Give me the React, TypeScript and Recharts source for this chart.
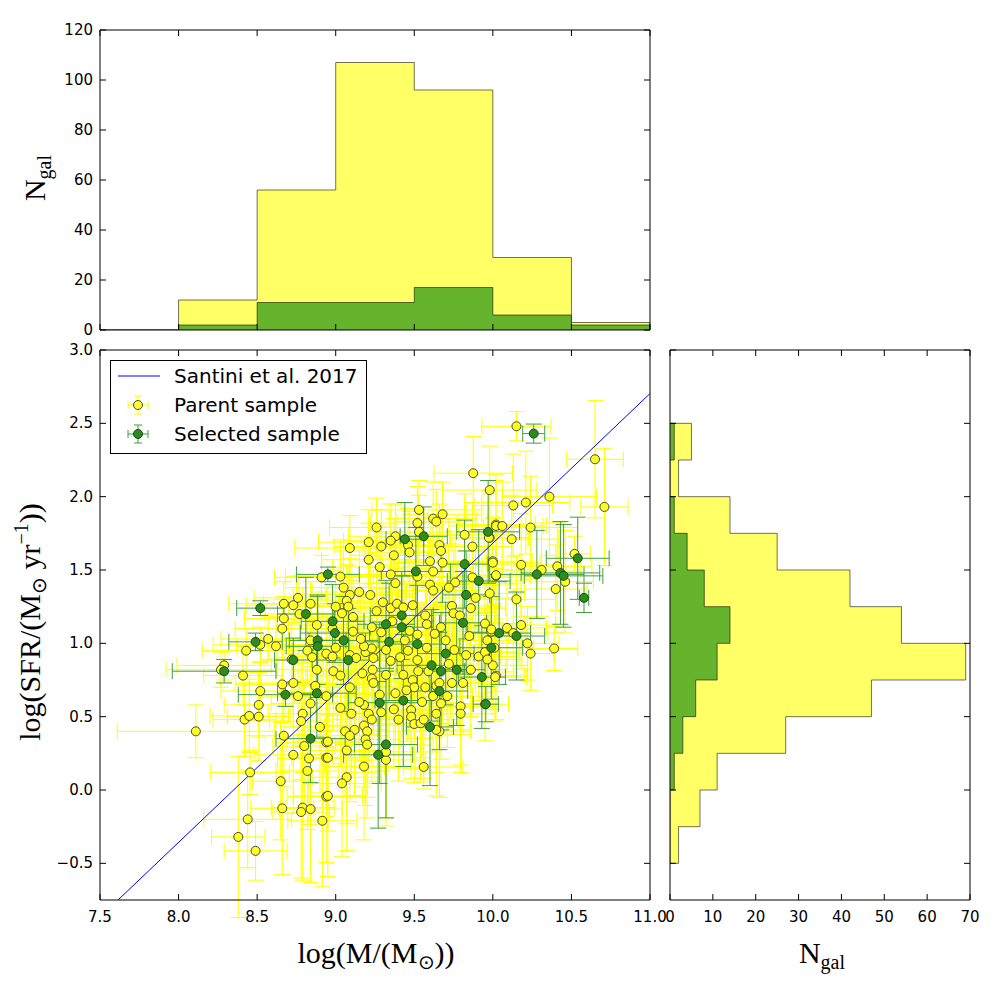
import React from 'react';
import { ComposedChart, Area, Scatter, ErrorBar, XAxis, YAxis } from 'recharts';

// Histogram of stellar mass: bin edges and galaxy counts per bin
const MASS_EDGES = [7.5, 8.0, 8.5, 9.0, 9.5, 10.0, 10.5, 11.0];
const PARENT_MASS_COUNTS = [0, 12, 56, 107, 96, 29, 3];
const SELECTED_MASS_COUNTS = [0, 2, 11, 11, 17, 6, 2];

// Histogram of SFR: bin edges and galaxy counts per bin
const SFR_EDGES = [-0.5, -0.25, 0, 0.25, 0.5, 0.75, 1.0, 1.25, 1.5, 1.75, 2.0, 2.25, 2.5];
const PARENT_SFR_COUNTS = [2, 7, 11, 27, 47, 69, 54, 42, 25, 14, 2, 5];
const SELECTED_SFR_COUNTS = [0, 0, 1, 3, 6, 11, 14, 8, 4, 1, 0, 1];

const MASS_TICKS = [7.5, 8.0, 8.5, 9.0, 9.5, 10.0, 10.5, 11.0];
const SFR_TICKS = [-0.5, 0, 0.5, 1.0, 1.5, 2.0, 2.5, 3.0];
const MASS_COUNT_TICKS = [0, 20, 40, 60, 80, 100, 120];
const SFR_COUNT_TICKS = [0, 10, 20, 30, 40, 50, 60, 70];

// Santini et al. 2017 main sequence: log SFR = a * log M + b
const SANTINI_SLOPE = 1.02;
const SANTINI_INTERCEPT = -8.517;
const SANTINI_MASS = [7.5, 11.0];

// [log M, log SFR, mass error, SFR error]
const PARENT_POINTS: number[][] = [
  [8.11, 0.4, 0.5, 0.18], [8.38, -0.32, 0.17, 0.55], [8.49, -0.415, 0.2, 0.2], [8.44, -0.2, 0.28, 0.33],
  [8.455, 0.12, 0.25, 0.15], [8.42, 0.48, 0.2, 0.25], [8.29, 0.85, 0.3, 0.1], [8.27, 0.82, 0.35, 0.12],
  [8.41, 0.78, 0.25, 0.2], [8.43, 0.95, 0.28, 0.15], [8.52, 0.99, 0.3, 0.12], [8.57, 1.03, 0.3, 0.15],
  [8.62, 0.98, 0.25, 0.2], [8.52, 0.675, 0.25, 0.2], [8.51, 0.58, 0.22, 0.22], [8.45, 0.505, 0.25, 0.25],
  [8.51, 0.5, 0.2, 0.3], [8.65, 0.06, 0.18, 0.4], [8.66, -0.125, 0.2, 0.45], [8.66, 0.72, 0.3, 0.25],
  [8.67, 1.27, 0.35, 0.15], [8.67, 1.17, 0.25, 0.15], [8.66, 1.1, 0.3, 0.2], [8.67, 0.37, 0.25, 0.35],
  [8.73, 1.26, 0.3, 0.12], [8.76, 1.31, 0.28, 0.15], [8.77, 1.2, 0.22, 0.18], [8.84, 1.27, 0.3, 0.15],
  [8.88, 1.125, 0.25, 0.2], [8.84, 1.02, 0.3, 0.18], [8.82, 0.95, 0.25, 0.22], [8.85, 0.905, 0.22, 0.25],
  [8.72, 0.89, 0.2, 0.25], [8.88, 0.82, 0.25, 0.3], [8.73, 0.73, 0.28, 0.3], [8.87, 0.71, 0.22, 0.3],
  [8.76, 0.64, 0.25, 0.35], [8.94, 0.64, 0.2, 0.35], [8.84, 0.59, 0.25, 0.35], [8.79, 0.52, 0.22, 0.4],
  [8.78, 0.47, 0.2, 0.4], [8.9, 0.43, 0.25, 0.45], [8.8, 0.3, 0.2, 0.45], [8.94, 0.325, 0.25, 0.4],
  [8.73, 0.24, 0.25, 0.4], [8.83, 0.215, 0.2, 0.45], [8.94, 0.22, 0.22, 0.4], [8.82, 0.13, 0.2, 0.4],
  [8.94, -0.045, 0.25, 0.45], [8.79, -0.12, 0.2, 0.5], [8.78, -0.15, 0.18, 0.45], [8.84, -0.13, 0.2, 0.5],
  [8.915, -0.21, 0.22, 0.45], [8.91, 1.45, 0.3, 0.15], [8.96, 0.91, 0.25, 0.25], [8.94, 0.93, 0.28, 0.25],
  [8.98, 0.91, 0.25, 0.25], [9.0, 0.97, 0.3, 0.2], [8.985, 0.81, 0.25, 0.3], [9.03, 0.78, 0.22, 0.3],
  [9.09, 0.92, 0.25, 0.25], [9.13, 0.9, 0.28, 0.25], [9.19, 0.94, 0.25, 0.22], [9.23, 0.965, 0.22, 0.22],
  [9.24, 0.9, 0.25, 0.25], [9.18, 0.98, 0.28, 0.2], [9.17, 0.795, 0.25, 0.3], [9.235, 0.82, 0.22, 0.3],
  [9.23, 0.76, 0.25, 0.3], [9.24, 0.73, 0.2, 0.35], [9.09, 0.7, 0.25, 0.35], [9.32, 0.785, 0.25, 0.3],
  [9.32, 0.955, 0.22, 0.25], [9.35, 0.88, 0.25, 0.25], [9.41, 0.905, 0.22, 0.28], [9.46, 0.95, 0.25, 0.22],
  [9.52, 0.886, 0.25, 0.25], [9.58, 0.97, 0.2, 0.25], [9.755, 0.955, 0.25, 0.25], [9.83, 0.92, 0.22, 0.25],
  [9.91, 0.91, 0.25, 0.3], [9.955, 0.94, 0.2, 0.28], [10.0, 0.85, 0.22, 0.3], [10.02, 0.78, 0.18, 0.3],
  [9.81, 0.73, 0.22, 0.35], [9.74, 0.73, 0.25, 0.35], [9.525, 0.81, 0.22, 0.3], [9.59, 0.81, 0.25, 0.3],
  [9.43, 0.785, 0.22, 0.3], [9.49, 0.75, 0.25, 0.32], [9.5, 0.7, 0.2, 0.35], [9.57, 0.7, 0.22, 0.35],
  [9.64, 0.71, 0.25, 0.35], [9.66, 0.73, 0.2, 0.3], [9.38, 0.66, 0.25, 0.35], [9.45, 0.68, 0.22, 0.35],
  [9.62, 0.64, 0.25, 0.38], [9.71, 0.64, 0.22, 0.35], [9.795, 0.57, 0.2, 0.4], [9.795, 0.52, 0.22, 0.4],
  [9.67, 0.59, 0.2, 0.38], [9.64, 0.52, 0.22, 0.4], [9.48, 0.545, 0.25, 0.4], [9.37, 0.55, 0.22, 0.4],
  [9.48, 0.5, 0.2, 0.42], [9.29, 0.53, 0.25, 0.4], [9.18, 0.58, 0.22, 0.38], [9.21, 0.52, 0.25, 0.4],
  [9.23, 0.48, 0.22, 0.42], [9.18, 0.44, 0.25, 0.42], [9.12, 0.41, 0.22, 0.45], [9.2, 0.4, 0.25, 0.45],
  [9.06, 0.4, 0.22, 0.45], [9.09, 0.37, 0.25, 0.45], [9.19, 0.345, 0.22, 0.45], [9.2, 0.31, 0.2, 0.5],
  [9.03, 0.56, 0.25, 0.38], [9.1, 0.52, 0.22, 0.4], [9.15, 0.6, 0.25, 0.38], [8.95, 0.33, 0.22, 0.45],
  [9.07, 0.27, 0.25, 0.5], [8.95, 0.22, 0.22, 0.5], [9.18, 0.16, 0.25, 0.5], [9.07, 0.087, 0.22, 0.5],
  [9.04, 0.045, 0.25, 0.5], [8.95, -0.04, 0.22, 0.55], [9.32, 0.205, 0.25, 0.45], [9.32, 0.26, 0.22, 0.45],
  [9.56, 0.157, 0.25, 0.15], [9.5, 0.45, 0.22, 0.4], [9.54, 0.455, 0.25, 0.4], [9.56, 0.48, 0.22, 0.4],
  [9.66, 0.4, 0.2, 0.45], [9.64, 0.41, 0.22, 0.45], [9.875, 2.16, 0.25, 0.25], [9.98, 2.045, 0.3, 0.3],
  [9.53, 1.91, 0.3, 0.2], [9.68, 1.88, 0.25, 0.22], [9.62, 1.85, 0.28, 0.25], [9.64, 1.83, 0.25, 0.22],
  [9.52, 1.82, 0.3, 0.25], [10.02, 1.81, 0.25, 0.3], [9.26, 1.79, 0.3, 0.2], [9.53, 1.76, 0.28, 0.25],
  [9.38, 1.73, 0.3, 0.22], [9.98, 1.72, 0.25, 0.3], [9.82, 1.74, 0.28, 0.28], [9.35, 1.7, 0.3, 0.25],
  [9.21, 1.69, 0.32, 0.22], [9.29, 1.66, 0.3, 0.25], [9.09, 1.65, 0.35, 0.22], [9.46, 1.67, 0.28, 0.25],
  [9.66, 1.67, 0.25, 0.28], [9.67, 1.63, 0.28, 0.28], [9.87, 1.66, 0.25, 0.3], [9.47, 1.62, 0.25, 0.28],
  [9.37, 1.6, 0.28, 0.25], [9.21, 1.57, 0.3, 0.25], [9.6, 1.56, 0.25, 0.3], [9.68, 1.55, 0.28, 0.3],
  [10.0, 1.56, 0.25, 0.3], [9.28, 1.52, 0.3, 0.28], [9.62, 1.49, 0.25, 0.3], [9.52, 1.455, 0.28, 0.3],
  [9.35, 1.47, 0.3, 0.28], [9.03, 1.455, 0.35, 0.25], [9.87, 1.45, 0.25, 0.32], [10.02, 1.46, 0.22, 0.32],
  [9.38, 1.41, 0.28, 0.3], [9.76, 1.415, 0.25, 0.32], [9.72, 1.38, 0.28, 0.3], [9.6, 1.4, 0.25, 0.32],
  [9.62, 1.36, 0.22, 0.3], [9.89, 1.31, 0.25, 0.32], [9.98, 1.34, 0.22, 0.3], [9.15, 1.35, 0.3, 0.28],
  [9.22, 1.33, 0.28, 0.28], [9.09, 1.33, 0.3, 0.25], [9.07, 1.29, 0.32, 0.25], [9.08, 1.25, 0.28, 0.28],
  [9.3, 1.28, 0.28, 0.3], [9.35, 1.24, 0.25, 0.3], [9.39, 1.27, 0.28, 0.28], [9.43, 1.245, 0.25, 0.3],
  [9.49, 1.26, 0.25, 0.3], [9.57, 1.19, 0.22, 0.32], [9.74, 1.255, 0.25, 0.3], [9.75, 1.205, 0.22, 0.32],
  [9.79, 1.19, 0.25, 0.3], [9.86, 1.24, 0.22, 0.32], [9.04, 1.205, 0.3, 0.25], [9.11, 1.18, 0.28, 0.28],
  [9.23, 1.11, 0.25, 0.3], [9.29, 1.075, 0.28, 0.3], [9.11, 1.08, 0.3, 0.28], [9.47, 1.085, 0.25, 0.32],
  [9.52, 1.06, 0.22, 0.32], [9.63, 1.065, 0.25, 0.32], [9.67, 1.11, 0.22, 0.3], [9.95, 1.135, 0.25, 0.3],
  [9.99, 1.08, 0.22, 0.32], [10.15, 2.48, 0.22, 0.1], [10.65, 2.255, 0.18, 0.4], [10.71, 1.93, 0.15, 0.4],
  [10.36, 2.0, 0.3, 0.4], [10.21, 1.96, 0.28, 0.35], [10.13, 1.94, 0.25, 0.35], [10.24, 1.79, 0.3, 0.35],
  [10.02, 1.8, 0.3, 0.35], [10.06, 1.8, 0.28, 0.3], [9.975, 1.72, 0.25, 0.32], [10.12, 1.71, 0.3, 0.3],
  [10.52, 1.61, 0.1, 0.12], [10.0, 1.55, 0.3, 0.3], [10.18, 1.535, 0.25, 0.35], [10.31, 1.5, 0.25, 0.32],
  [10.41, 1.525, 0.22, 0.3], [10.02, 1.465, 0.25, 0.3], [10.46, 1.42, 0.18, 0.35], [10.4, 1.37, 0.2, 0.3],
  [10.15, 1.3, 0.25, 0.3], [10.18, 1.125, 0.22, 0.3], [10.09, 1.105, 0.25, 0.3], [10.13, 1.07, 0.22, 0.3],
  [10.22, 1.0, 0.2, 0.25], [10.24, 0.93, 0.15, 0.25], [10.39, 0.965, 0.15, 0.15], [9.99, 1.095, 0.25, 0.3],
  [9.965, 1.02, 0.22, 0.3], [10.01, 0.97, 0.25, 0.3], [9.95, 0.94, 0.22, 0.3], [9.965, 0.89, 0.22, 0.32],
  [10.015, 0.77, 0.2, 0.3], [9.95, 0.585, 0.15, 0.25], [9.36, 1.15, 0.25, 0.3], [9.44, 1.02, 0.22, 0.3],
  [9.58, 1.13, 0.25, 0.3], [9.7, 1.02, 0.22, 0.32], [9.85, 1.05, 0.25, 0.3], [9.26, 1.22, 0.25, 0.3],
  [9.55, 0.6, 0.22, 0.38], [9.86, 0.82, 0.22, 0.32], [9.4, 0.48, 0.25, 0.42], [9.28, 0.65, 0.22, 0.38],
  [8.98, 1.1, 0.28, 0.28], [9.0, 1.25, 0.3, 0.25], [9.72, 0.86, 0.22, 0.3], [9.16, 1.03, 0.25, 0.28],
  [9.05, 1.38, 0.3, 0.25],
];

const SELECTED_POINTS: number[][] = [
  [8.29, 0.81, 0.33, 0.08], [8.52, 1.24, 0.15, 0.05], [8.49, 1.01, 0.17, 0.06], [8.95, 1.47, 0.2, 0.05],
  [8.81, 1.2, 0.18, 0.25], [8.885, 1.02, 0.18, 0.3], [8.885, 0.98, 0.2, 0.35], [8.73, 0.886, 0.12, 0.15],
  [8.68, 0.65, 0.3, 0.08], [8.88, 0.66, 0.25, 0.3], [8.84, 0.35, 0.22, 0.3], [8.98, 1.15, 0.2, 0.25],
  [8.995, 1.07, 0.22, 0.2], [9.05, 1.02, 0.22, 0.3], [9.08, 0.886, 0.2, 0.35], [9.44, 1.71, 0.12, 0.25],
  [9.56, 1.73, 0.15, 0.2], [9.97, 1.76, 0.2, 0.35], [9.51, 1.49, 0.22, 0.3], [9.82, 1.54, 0.15, 0.3],
  [9.91, 1.425, 0.2, 0.35], [9.83, 1.33, 0.15, 0.3], [9.42, 1.19, 0.2, 0.3], [9.81, 1.14, 0.15, 0.35],
  [9.32, 1.13, 0.18, 0.3], [9.42, 1.11, 0.2, 0.35], [9.34, 1.01, 0.15, 0.4], [9.52, 0.995, 0.18, 0.4],
  [9.99, 0.97, 0.2, 0.35], [9.7, 0.93, 0.18, 0.35], [9.61, 0.85, 0.22, 0.38], [9.67, 0.81, 0.15, 0.4],
  [9.77, 0.82, 0.18, 0.38], [9.93, 0.77, 0.15, 0.35], [9.66, 0.675, 0.18, 0.4], [9.28, 0.595, 0.2, 0.55],
  [9.43, 0.61, 0.18, 0.45], [9.955, 0.585, 0.08, 0.12], [9.6, 0.43, 0.15, 0.4], [9.32, 0.31, 0.2, 0.5],
  [9.27, 0.24, 0.22, 0.5], [10.26, 2.43, 0.07, 0.065], [10.54, 1.58, 0.2, 0.28], [10.43, 1.48, 0.25, 0.35],
  [10.45, 1.46, 0.25, 0.35], [10.28, 1.47, 0.3, 0.3], [10.58, 1.31, 0.03, 0.1], [10.04, 1.07, 0.2, 0.35],
  [10.15, 1.05, 0.18, 0.3],
];

const PARENT_FILL = '#ffff66';
const SELECTED_FILL = '#66b32e';
const HIST_EDGE = 'rgba(0,0,0,0.55)';

const toPoint = (p: number[]) => ({ x: p[0], y: p[1], ex: p[2], ey: p[3] });
const parentData = PARENT_POINTS.map(toPoint);
const selectedData = SELECTED_POINTS.map(toPoint);
const santiniData = SANTINI_MASS.map((x) => ({ x, y: SANTINI_SLOPE * x + SANTINI_INTERCEPT }));

// step tables: one row per bin edge, the last edge closes the outline at zero
const massTable = MASS_EDGES.map((x, i) => ({
  x,
  parent: PARENT_MASS_COUNTS[i] ?? 0,
  selected: SELECTED_MASS_COUNTS[i] ?? 0,
}));
const sfrTable = [
  { y: SFR_EDGES[0], parent: 0, selected: 0 },
  ...SFR_EDGES.map((y, i) => ({
    y,
    parent: PARENT_SFR_COUNTS[i] ?? 0,
    selected: SELECTED_SFR_COUNTS[i] ?? 0,
  })),
];

const fmtOne = (v: number) => (v < 0 ? '\u2212' + Math.abs(v).toFixed(1) : v.toFixed(1));
const fmtInt = (v: number) => String(v);

const TICK_LEN = 6;
const tickText = { fontFamily: '"DejaVu Sans", sans-serif', fontSize: 15, fill: '#000' };

// inward ticks like matplotlib; each tick is repeated on the opposite
// side of the frame, `span` pixels away (the plot width or height)
const bottomTick = (span: number, format?: (v: number) => string) => (props: any) => {
  const { x, y, payload } = props;
  return (
    <g>
      <line x1={x} x2={x} y1={y} y2={y - TICK_LEN} stroke="#000" />
      <line x1={x} x2={x} y1={y - span} y2={y - span + TICK_LEN} stroke="#000" />
      {format && (
        <text x={x} y={y + 22} textAnchor="middle" {...tickText}>
          {format(payload.value)}
        </text>
      )}
    </g>
  );
};

const leftTick = (span: number, format?: (v: number) => string) => (props: any) => {
  const { x, y, payload } = props;
  return (
    <g>
      <line x1={x} x2={x + TICK_LEN} y1={y} y2={y} stroke="#000" />
      <line x1={x + span} x2={x + span - TICK_LEN} y1={y} y2={y} stroke="#000" />
      {format && (
        <text x={x - 7} y={y + 5} textAnchor="end" {...tickText}>
          {format(payload.value)}
        </text>
      )}
    </g>
  );
};

const axisBase = {
  type: 'number' as const,
  allowDataOverflow: true,
  tickLine: false,
  tickSize: 0,
  tickMargin: 0,
  interval: 0 as const,
  axisLine: { stroke: '#000', strokeWidth: 1 },
};

const ParentDot = (p: any) => (
  <circle cx={p.cx} cy={p.cy} r={4.5} fill="#ffff22" stroke="#4a4a30" strokeWidth={1} />
);
const SelectedDot = (p: any) => (
  <circle cx={p.cx} cy={p.cy} r={4.5} fill="#2d8c1f" stroke="#1c4a12" strokeWidth={1} />
);
const NoDot = () => <g />;

// top / right axes only draw the frame; they need 1px of room to render
const MassHistogram = () => (
  <ComposedChart width={680} height={340} data={massTable} margin={{ top: 29, right: 29, bottom: 0, left: 0 }}>
    <XAxis {...axisBase} dataKey="x" domain={[7.5, 11]} ticks={MASS_TICKS} height={10} tick={bottomTick(300)} />
    <XAxis {...axisBase} xAxisId="top" dataKey="x" orientation="top" domain={[7.5, 11]} height={1} tick={false} />
    <YAxis {...axisBase} domain={[0, 120]} ticks={MASS_COUNT_TICKS} width={100} tick={leftTick(550, fmtInt)} />
    <YAxis {...axisBase} yAxisId="right" orientation="right" domain={[0, 120]} width={1} tick={false} />
    <Area dataKey="parent" type="stepAfter" fill={PARENT_FILL} fillOpacity={1} stroke={HIST_EDGE} strokeWidth={1} dot={false} activeDot={false} isAnimationActive={false} />
    <Area dataKey="selected" type="stepAfter" fill={SELECTED_FILL} fillOpacity={1} stroke={HIST_EDGE} strokeWidth={1} dot={false} activeDot={false} isAnimationActive={false} />
  </ComposedChart>
);

const SfrHistogram = () => (
  <ComposedChart layout="vertical" width={340} height={600} data={sfrTable} margin={{ top: 9, right: 29, bottom: 0, left: 0 }}>
    <XAxis {...axisBase} domain={[0, 70]} ticks={SFR_COUNT_TICKS} height={40} tick={bottomTick(550, fmtInt)} />
    <XAxis {...axisBase} xAxisId="top" orientation="top" domain={[0, 70]} height={1} tick={false} />
    <YAxis {...axisBase} dataKey="y" domain={[-0.75, 3]} ticks={SFR_TICKS} width={10} reversed tick={leftTick(300)} />
    <YAxis {...axisBase} yAxisId="right" dataKey="y" orientation="right" domain={[-0.75, 3]} width={1} reversed tick={false} />
    <Area dataKey="parent" type="stepBefore" fill={PARENT_FILL} fillOpacity={1} stroke={HIST_EDGE} strokeWidth={1} dot={false} activeDot={false} isAnimationActive={false} />
    <Area dataKey="selected" type="stepBefore" fill={SELECTED_FILL} fillOpacity={1} stroke={HIST_EDGE} strokeWidth={1} dot={false} activeDot={false} isAnimationActive={false} />
  </ComposedChart>
);

const MassSfrScatter = () => (
  <ComposedChart width={680} height={600} margin={{ top: 9, right: 29, bottom: 0, left: 0 }}>
    <XAxis {...axisBase} dataKey="x" domain={[7.5, 11]} ticks={MASS_TICKS} height={40} tick={bottomTick(550, fmtOne)} />
    <XAxis {...axisBase} xAxisId="top" orientation="top" domain={[7.5, 11]} height={1} tick={false} />
    <YAxis {...axisBase} dataKey="y" domain={[-0.75, 3]} ticks={SFR_TICKS} width={100} tick={leftTick(550, fmtOne)} />
    <YAxis {...axisBase} yAxisId="right" orientation="right" domain={[-0.75, 3]} width={1} tick={false} />
    <Scatter data={santiniData} line={{ stroke: '#0000ff', strokeWidth: 1 }} shape={NoDot} isAnimationActive={false} />
    <Scatter data={parentData} shape={ParentDot} isAnimationActive={false}>
      <ErrorBar dataKey="ex" direction="x" width={8} stroke="#ffff00" strokeWidth={1} isAnimationActive={false} />
      <ErrorBar dataKey="ey" direction="y" width={8} stroke="#ffff00" strokeWidth={1} isAnimationActive={false} />
    </Scatter>
    <Scatter data={selectedData} shape={SelectedDot} isAnimationActive={false}>
      <ErrorBar dataKey="ex" direction="x" width={8} stroke="#3f9f3f" strokeWidth={1} isAnimationActive={false} />
      <ErrorBar dataKey="ey" direction="y" width={8} stroke="#3f9f3f" strokeWidth={1} isAnimationActive={false} />
    </Scatter>
  </ComposedChart>
);

const legendText = { fontFamily: '"DejaVu Sans", sans-serif', fontSize: 20, fill: '#000' };

const KeyMarker = ({ cy, fill, edge, bar }: { cy: number; fill: string; edge: string; bar: string }) => (
  <g stroke={bar} strokeWidth={1}>
    <line x1={18} x2={38} y1={cy} y2={cy} />
    <line x1={28} x2={28} y1={cy - 9} y2={cy + 9} />
    <line x1={18} x2={18} y1={cy - 4} y2={cy + 4} />
    <line x1={38} x2={38} y1={cy - 4} y2={cy + 4} />
    <line x1={24} x2={32} y1={cy - 9} y2={cy - 9} />
    <line x1={24} x2={32} y1={cy + 9} y2={cy + 9} />
    <circle cx={28} cy={cy} r={4.5} fill={fill} stroke={edge} />
  </g>
);

const LegendBox = () => (
  <svg width={257} height={94} style={{ position: 'absolute', left: 110, top: 360 }}>
    <rect x={0.5} y={0.5} width={256} height={93} fill="#fff" stroke="#000" />
    <line x1={8} x2={50} y1={16} y2={16} stroke="#0000ff" strokeWidth={1} />
    <text x={64} y={23} {...legendText}>Santini et al. 2017</text>
    <KeyMarker cy={45} fill="#ffff22" edge="#4a4a30" bar="#ffff00" />
    <text x={64} y={52} {...legendText}>Parent sample</text>
    <KeyMarker cy={74} fill="#2d8c1f" edge="#1c4a12" bar="#3f9f3f" />
    <text x={64} y={81} {...legendText}>Selected sample</text>
  </svg>
);

const titleText = { fontFamily: '"Liberation Serif", serif', fontSize: 30, fill: '#000' };

const AxisTitles = () => (
  <svg width={1000} height={1000} style={{ position: 'absolute', left: 0, top: 0, pointerEvents: 'none' }}>
    <text transform="translate(45,178) rotate(-90)" textAnchor="middle" {...titleText}>
      N<tspan dy={6} fontSize={20}>gal</tspan>
    </text>
    <text transform="translate(40,622) rotate(-90)" textAnchor="middle" {...titleText}>
      log(SFR/(M<tspan dy={6} fontSize={20}>{'\u2299'}</tspan>
      <tspan dy={-6}> yr</tspan>
      <tspan dy={-12} fontSize={20}>{'\u22121'}</tspan>
      <tspan dy={12}>))</tspan>
    </text>
    <text x={376} y={963} textAnchor="middle" {...titleText}>
      log(M/(M<tspan dy={6} fontSize={20}>{'\u2299'}</tspan>
      <tspan dy={-6}>))</tspan>
    </text>
    <text x={822} y={963} textAnchor="middle" {...titleText}>
      N<tspan dy={6} fontSize={20}>gal</tspan>
    </text>
  </svg>
);

export default function App() {
  return (
    <div style={{ position: 'absolute', left: 0, top: 0, width: 1000, height: 1000, background: '#fff' }}>
      <div style={{ position: 'absolute', left: 0, top: 0 }}>
        <MassHistogram />
      </div>
      <div style={{ position: 'absolute', left: 0, top: 340 }}>
        <MassSfrScatter />
      </div>
      <div style={{ position: 'absolute', left: 660, top: 340 }}>
        <SfrHistogram />
      </div>
      <LegendBox />
      <AxisTitles />
    </div>
  );
}
